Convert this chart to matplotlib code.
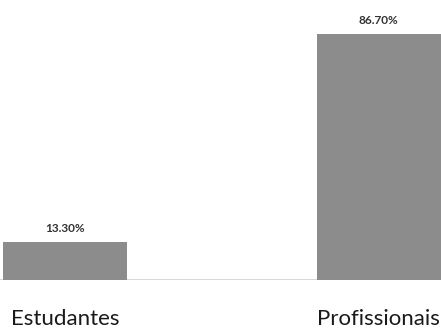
import matplotlib.pyplot as plt

categorias = ["Estudantes", "Profissionais"]
percentuais = [13.30, 86.70]
rotulos = ["13.30%", "86.70%"]

plt.rcParams['font.family'] = ['Lato', 'DejaVu Sans']

fig = plt.figure(figsize=(4.41, 3.29), dpi=100)
ax = fig.add_axes([0, 49 / 329, 1, 280 / 329])

x = list(range(len(categorias)))
barras = ax.bar(x, percentuais, width=0.3955, color='#8c8c8c')
ax.set_xlim(-0.2074, 1.199)
ax.set_ylim(0, 98.68)

# linha de base cinza clara
ax.axhline(0, color='#d9d9d9', linewidth=1.5, zorder=0)

for b, txt in zip(barras, rotulos):
    ax.annotate(txt, (b.get_x() + b.get_width() / 2, b.get_height()),
                xytext=(0, 10), textcoords='offset points',
                ha='center', va='center', fontsize=8.5, fontweight='bold',
                color='#333333')

for xi, nome in zip(x, categorias):
    ax.annotate(nome, (xi, 0), xytext=(0, -28), textcoords='offset points',
                ha='center', va='center', fontsize=16, color='#1a1a1a',
                annotation_clip=False)

ax.axis('off')
fig.savefig('out.png', dpi=100)
